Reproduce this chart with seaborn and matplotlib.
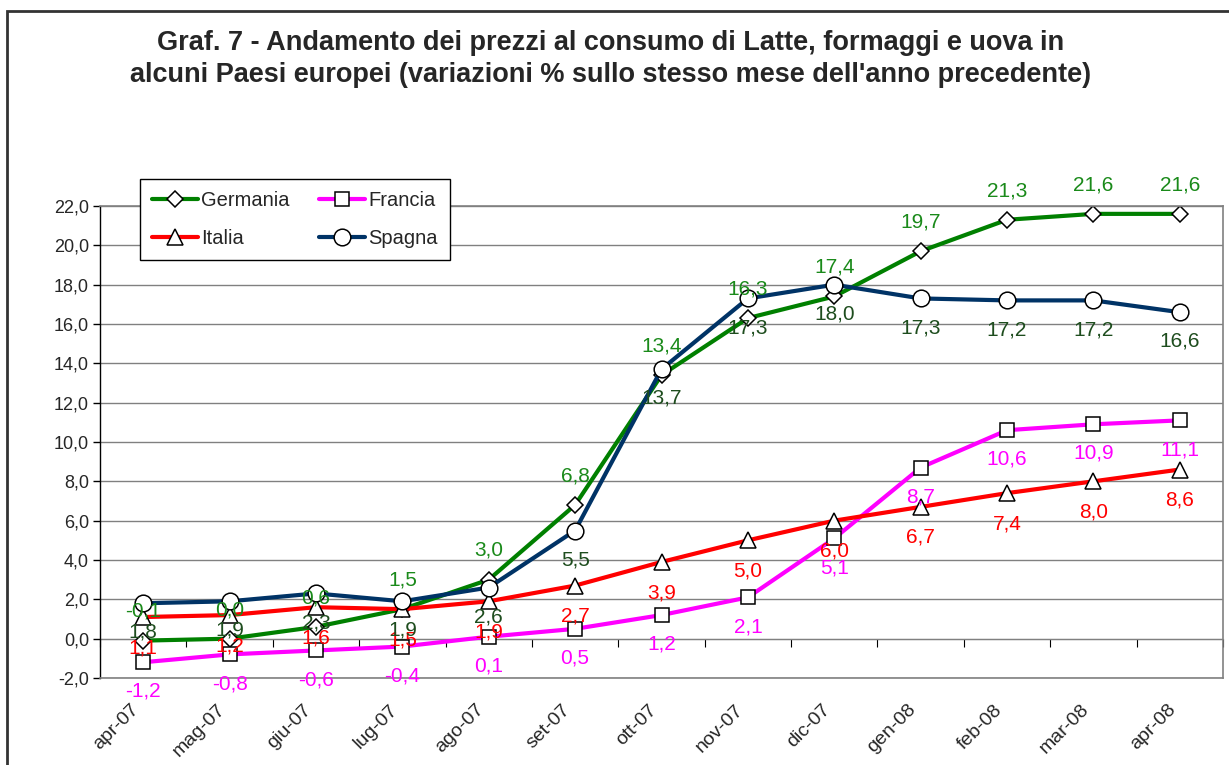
import numpy as np
import seaborn as sns
import matplotlib.pyplot as plt
from matplotlib.patches import Rectangle
from matplotlib.ticker import FuncFormatter
from matplotlib.transforms import ScaledTranslation

mesi = ['apr-07', 'mag-07', 'giu-07', 'lug-07', 'ago-07', 'set-07', 'ott-07',
        'nov-07', 'dic-07', 'gen-08', 'feb-08', 'mar-08', 'apr-08']

germania = [-0.1, 0.0, 0.6, 1.5, 3.0, 6.8, 13.4, 16.3, 17.4, 19.7, 21.3, 21.6, 21.6]
francia = [-1.2, -0.8, -0.6, -0.4, 0.1, 0.5, 1.2, 2.1, 5.1, 8.7, 10.6, 10.9, 11.1]
italia = [1.1, 1.2, 1.6, 1.5, 1.9, 2.7, 3.9, 5.0, 6.0, 6.7, 7.4, 8.0, 8.6]
spagna = [1.8, 1.9, 2.3, 1.9, 2.6, 5.5, 13.7, 17.3, 18.0, 17.3, 17.2, 17.2, 16.6]

titolo = ("Graf. 7 - Andamento dei prezzi al consumo di Latte, formaggi e uova in\n"
          "alcuni Paesi europei (variazioni % sullo stesso mese dell'anno precedente)")

sns.set_style('white')
plt.rcParams['font.family'] = ['Liberation Sans', 'DejaVu Sans']

fig = plt.figure(figsize=(12.29, 7.65), dpi=100)
ax = fig.add_axes([100 / 1229, 1 - 678 / 765, 1123 / 1229, 472 / 765])

x = np.arange(len(mesi))

# serie: nome, valori, colore linea, marker, dimensione, colore etichetta, offset etichetta
serie = [
    ('Germania', germania, '#008000', 'D', 8.5, '#1a8a1a', 21),
    ('Francia', francia, '#ff00ff', 's', 10.5, '#ff00ff', -21),
    ('Italia', italia, '#ff0000', '^', 12, '#ff0000', -22),
    ('Spagna', spagna, '#003366', 'o', 12, '#1e4d1e', -21),
]

linee = {}
for nome, vals, col, mk, ms, col_lab, off in serie:
    sns.lineplot(x=x, y=vals, ax=ax, color=col, lw=3.0, marker=mk, ms=ms,
                 markerfacecolor='white', markeredgecolor='black', mew=1.1,
                 label=nome, legend=False)
    linee[nome] = ax.get_lines()[-1]

for nome, vals, col, mk, ms, col_lab, off in serie:
    for xi, v in zip(x, vals):
        ax.annotate(f'{v:.1f}'.replace('.', ','), xy=(xi, v), xytext=(0, off),
                    textcoords='offset points', ha='center', va='center',
                    fontsize=15, color=col_lab, zorder=10)

ax.set_xlim(-0.5, len(mesi) - 0.5)
ax.set_ylim(-2, 22)
ax.set_yticks(np.arange(-2, 23, 2))
ax.yaxis.set_major_formatter(FuncFormatter(lambda v, p: f'{v:.1f}'.replace('.', ',')))
ax.grid(axis='y', color='#808080', lw=1)
ax.set_axisbelow(True)

ax.set_xticks(x)
ax.set_xticklabels(mesi, rotation=45, ha='right', va='center', rotation_mode='anchor')
ax.tick_params(axis='x', length=0, labelsize=14, pad=21)
ax.tick_params(axis='y', left=True, length=5, width=1, color='black',
               labelsize=13, pad=3)
sposta = ScaledTranslation(-5 / 72, 0, fig.dpi_scale_trans)
for t in ax.get_xticklabels():
    t.set_transform(t.get_transform() + sposta)
ax.set_xlabel('')
ax.set_ylabel('')

for s in ['top', 'right', 'bottom']:
    ax.spines[s].set_color('#808080')
    ax.spines[s].set_linewidth(1.2)
ax.spines['left'].set_color('black')
ax.spines['left'].set_linewidth(1)

# asse delle categorie a quota zero con tacche tra i mesi
asse0 = ax.secondary_xaxis(2 / 24)
asse0.set_xticks(np.arange(-0.5, len(mesi), 1))
asse0.tick_params(axis='x', direction='out', length=6, color='black', labelbottom=False)
asse0.spines['bottom'].set_color('#808080')

ordine = ['Germania', 'Italia', 'Francia', 'Spagna']
leg = ax.legend([linee[n] for n in ordine], ordine, ncol=2, loc='upper left',
                bbox_to_anchor=(40 / 1123, 1 + 27 / 472), fontsize=14.5,
                frameon=True, fancybox=False, edgecolor='black', framealpha=1,
                handlelength=2.3, handletextpad=0.15, columnspacing=1.45,
                borderpad=0.6, labelspacing=0.95, borderaxespad=0)
leg.get_frame().set_linewidth(1)

fig.text(0.4965, 1 - 59 / 765, titolo, ha='center', va='center', fontsize=19.5,
         fontweight='bold', linespacing=1.3)

fig.patches.append(Rectangle((7 / 1229, -0.1), 1.2, 1.1 - 11 / 765,
                             transform=fig.transFigure, fill=False,
                             edgecolor='#333333', lw=2))

fig.savefig('out.png', dpi=100)
